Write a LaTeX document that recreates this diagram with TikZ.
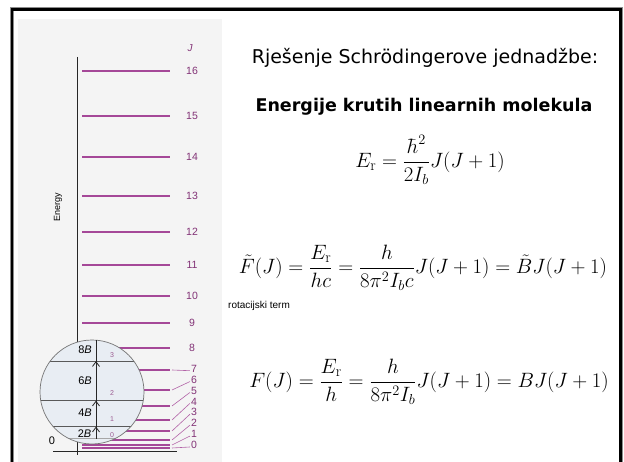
\documentclass[tikz,border=0pt]{standalone}
\usepackage{fontspec}
\usepackage{amsmath}
\newfontfamily\comic{DejaVu Sans}
\newfontfamily\arial{Liberation Sans}
\definecolor{lvlpurple}{RGB}{165,72,152}
\definecolor{labpurple}{RGB}{130,50,118}
\definecolor{panelgray}{RGB}{244,244,244}
\definecolor{circfill}{RGB}{232,237,243}
\tikzset{
  jlevel/.style={draw=lvlpurple, line width=1.8pt},
  jlab/.style={text=labpurple, font=\arial\fontsize{10.5}{12}\selectfont, inner sep=0pt},
  leader/.style={draw=lvlpurple!85, line width=0.6pt},
  chord/.style={draw=black!65, line width=0.7pt},
  blab/.style={font=\arial\fontsize{11}{12}\selectfont, inner sep=0pt},
  smalllab/.style={text=labpurple!80, font=\arial\fontsize{7}{8}\selectfont, inner sep=0pt},
  eqn/.style={font=\fontsize{22}{26}\selectfont, inner sep=0pt},
}
\begin{document}
\begin{tikzpicture}[x=1pt,y=-1pt]
\useasboundingbox (0,0) rectangle (624,462);
% frame
\draw[black!45, line width=4pt] (12,470) -- (12,9.5) -- (620.5,9.5) -- (620.5,470);
\draw[black, line width=2.6pt] (12,470) -- (12,9.5) -- (620.5,9.5) -- (620.5,470);
% picture panel
\fill[panelgray] (18,19) rectangle (222,462);
% axis
\draw[black!85, line width=0.8pt] (77,57) -- (77,455);
\node[font=\arial\fontsize{9}{10}\selectfont, rotate=90, inner sep=0pt] (energy) at (58,207) {Energy};
\node[jlab, font=\arial\itshape\fontsize{10}{12}\selectfont] (jhead) at (190,48) {J};
% levels
\foreach \j in {0,...,16} {
  \pgfmathsetmacro\yy{round(448-1.385*\j*(\j+1))}
  \draw[jlevel] (82,\yy) coordinate (S\j) -- (170,\yy) coordinate (L\j);
}
\foreach \j in {8,...,16} {
  \node[jlab] (n\j) at (192,{448-1.385*\j*(\j+1)}) {\j};
}
\foreach \j in {0,...,7} {
  \node[jlab] (n\j) at (194,{445-10.9*\j}) {\j};
  \draw[leader] ([xshift=2pt]L\j) -- ([xshift=-1pt,yshift=-2pt]n\j.west);
}
% baseline
\draw[black!85, line width=0.8pt] (53,451) coordinate (b0) -- (177,451) coordinate (b1);
\node[blab] (zero) at (52,441) {0};
% magnified circle
\fill[circfill] (92,392) circle (52);
\begin{scope}
  \clip (92,392) circle (52);
  \draw[chord] (30,361) -- (160,361);
  \draw[chord] (30,400.5) -- (160,400.5);
  \draw[chord] (30,426.5) -- (160,426.5);
  \draw[black!35, line width=0.7pt] (30,438.5) -- (160,438.5);
\end{scope}
\draw[black!55, line width=0.7pt] (92,392) circle (52);
% arrows
\coordinate (a0) at (96,438.5);
\coordinate (a3) at (96,340.2);
\draw[black!85, line width=0.7pt] (a0) -- (a3);
\foreach \yy in {426.5,400.5,361} {
  \draw[black!85, line width=0.8pt] (92.5,\yy+5.5) -- (96,\yy+0.8) -- (99.5,\yy+5.5);
}
\node[blab] (b8) at (85,350) {8\textit{B}};
\node[blab] (b6) at (85,381) {6\textit{B}};
\node[blab] (b4) at (85,413) {4\textit{B}};
\node[blab] (b2) at (84.5,433.5) {2\textit{B}};
\node[smalllab] (s3) at (112,355) {3};
\node[smalllab] (s2) at (112,393) {2};
\node[smalllab] (s1) at (112,419) {1};
\node[smalllab] (s0) at (112,435) {0};
% right-hand text
\node[font=\comic\fontsize{19}{22}\selectfont, inner sep=0pt] (title) at (425,58) {Rješenje Schrödingerove jednadžbe:};
\node[font=\comic\bfseries\fontsize{17.5}{20}\selectfont, inner sep=0pt] (sub) at (424,107) {Energije krutih linearnih molekula};
\node[eqn] (eq1) at (430,160) {$\displaystyle E_{\mathrm{r}}=\frac{\hbar^{2}}{2I_{b}}J(J+1)$};
\node[eqn] (eq2) at (423,268) {$\displaystyle \tilde{F}(J)=\frac{E_{\mathrm{r}}}{hc}=\frac{h}{8\pi^{2}I_{b}c}J(J+1)=\tilde{B}J(J+1)$};
\node[font=\arial\fontsize{10}{12}\selectfont, anchor=west, inner sep=0pt] (rot) at (228,306) {rotacijski term};
\node[eqn] (eq3) at (429,382) {$\displaystyle F(J)=\frac{E_{\mathrm{r}}}{h}=\frac{h}{8\pi^{2}I_{b}}J(J+1)=BJ(J+1)$};
\end{tikzpicture}
\end{document}
